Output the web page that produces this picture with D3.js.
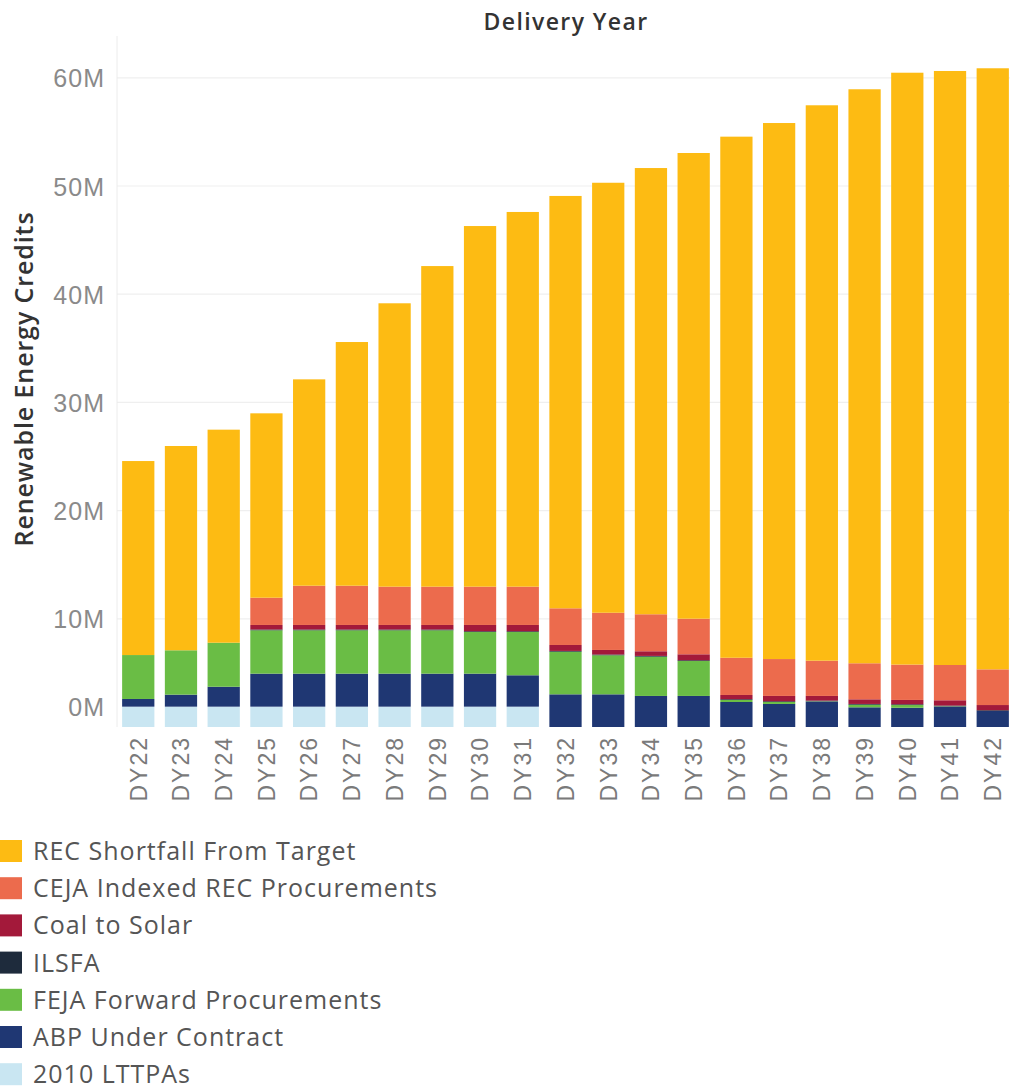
<!DOCTYPE html>
<html>
<head>
<meta charset="utf-8">
<script src="https://cdn.jsdelivr.net/npm/d3@7"></script>
<style>
  body { margin: 0; background: #fff; }
  svg { display: block; font-family: "Open Sans", "Noto Sans", sans-serif; }
</style>
</head>
<body>
<svg id="chart" width="1010" height="1091"></svg>
<script>
// delivery years
const years = ["DY22","DY23","DY24","DY25","DY26","DY27","DY28","DY29","DY30","DY31",
               "DY32","DY33","DY34","DY35","DY36","DY37","DY38","DY39","DY40","DY41","DY42"];

// values in millions of RECs, bottom of stack first
const lttpa    = [1.88,1.88,1.88,1.88,1.88,1.88,1.88,1.88,1.88,1.88, 0,0,0,0,0,0,0,0,0,0,0];
const abp      = [0.71,1.11,1.84,3.05,3.05,3.05,3.05,3.05,3.05,2.90, 3.02,3.02,2.87,2.87,2.31,2.13,2.34,1.82,1.78,1.88,1.48];
const feja     = [4.06,4.10,4.07,4.01,4.01,4.01,4.01,4.01,3.85,4.00, 3.94,3.61,3.63,3.23,0.19,0.18,0.03,0.24,0.25,0.03,0];
const ilsfa    = [0,0,0,0.07,0.07,0.07,0.07,0.07,0.07,0.07, 0.07,0.07,0.07,0.07,0.07,0.07,0.07,0.07,0.07,0.07,0.07];
const coal     = [0,0,0,0.42,0.42,0.42,0.42,0.42,0.58,0.58, 0.55,0.42,0.43,0.55,0.39,0.49,0.43,0.43,0.40,0.49,0.48];
const ceja     = [0,0,0,2.52,3.63,3.63,3.54,3.54,3.54,3.54, 3.39,3.44,3.42,3.29,3.44,3.41,3.26,3.33,3.27,3.26,3.30];
const shortfall= [17.93,18.88,19.69,17.04,19.07,22.52,26.19,29.63,33.33,34.63,
                  38.11,39.74,41.24,43.04,48.16,49.54,51.33,53.05,54.70,54.90,55.55];

const seriesNames = ["2010 LTTPAs","ABP Under Contract","FEJA Forward Procurements","ILSFA",
                     "Coal to Solar","CEJA Indexed REC Procurements","REC Shortfall From Target"];
const seriesValues = [lttpa, abp, feja, ilsfa, coal, ceja, shortfall];
const colors = ["#c9e6f2","#1f3773","#6abd45","#1e2b3c","#a3193a","#ec6b4d","#fdbb13"];

const yTicks = [0, 10, 20, 30, 40, 50, 60];

// build table for d3.stack
const rows = years.map((yr, i) => {
  const r = { year: yr };
  seriesNames.forEach((s, k) => r[s] = seriesValues[k][i]);
  return r;
});

const svg = d3.select("#chart");
const plotLeft = 117, plotRight = 1014, plotTop = 40, plotBottom = 727;

const x = d3.scaleBand()
  .domain(years)
  .range([plotLeft, plotRight])
  .paddingInner(0.245)
  .paddingOuter(0.12);

const y = d3.scaleLinear()
  .domain([0, 60])
  .range([plotBottom, plotBottom - 60 * 10.82]);

// gridlines
svg.append("g")
  .selectAll("line")
  .data(yTicks.filter(t => t > 0))
  .enter()
  .append("line")
  .attr("x1", plotLeft).attr("x2", 1010)
  .attr("y1", d => y(d)).attr("y2", d => y(d))
  .attr("stroke", "#efefef")
  .attr("stroke-width", 1.2);

// left pane border
svg.append("line")
  .attr("x1", plotLeft).attr("x2", plotLeft)
  .attr("y1", plotTop - 4).attr("y2", plotBottom)
  .attr("stroke", "#ececec");

// stacked bars
const stacked = d3.stack().keys(seriesNames)(rows);

svg.append("g")
  .selectAll("g")
  .data(stacked)
  .enter()
  .append("g")
  .attr("fill", (d, i) => colors[i])
  .selectAll("rect")
  .data(d => d)
  .enter()
  .append("rect")
  .attr("x", d => x(d.data.year))
  .attr("width", x.bandwidth())
  .attr("y", d => y(d[1]))
  .attr("height", d => Math.max(0, y(d[0]) - y(d[1])));

// y axis
const yAxis = svg.append("g")
  .attr("transform", `translate(${plotLeft},0)`)
  .call(d3.axisLeft(y).tickValues(yTicks).tickSize(0).tickPadding(12).tickFormat(d => d + "M"));
yAxis.select(".domain").remove();
yAxis.selectAll("text")
  .attr("fill", "#8a8a8a")
  .style("font-size", "25px")
  .style("letter-spacing", "1px")
  .attr("dy", d => d === 0 ? "-0.45em" : "0.36em");

// x axis
const xAxis = svg.append("g")
  .attr("transform", `translate(0,${plotBottom})`)
  .call(d3.axisBottom(x).tickSize(0).tickPadding(0));
xAxis.select(".domain").remove();
xAxis.selectAll("text")
  .attr("fill", "#7a7a7a")
  .style("font-size", "23px")
  .style("letter-spacing", "2px")
  .attr("text-anchor", "end")
  .attr("transform", "rotate(-90)")
  .attr("x", -9)
  .attr("y", 0)
  .attr("dy", "0.36em");

// titles
svg.append("text")
  .attr("x", 566).attr("y", 30)
  .attr("text-anchor", "middle")
  .attr("fill", "#333")
  .style("font-size", "23px")
  .style("font-weight", "600")
  .style("letter-spacing", "1.4px")
  .text("Delivery Year");

svg.append("text")
  .attr("transform", "translate(33,379) rotate(-90)")
  .attr("text-anchor", "middle")
  .attr("fill", "#333")
  .style("font-size", "25px")
  .style("font-weight", "600")
  .style("letter-spacing", "0.9px")
  .text("Renewable Energy Credits");

// legend, top to bottom reverses the stack
const legend = svg.append("g")
  .selectAll("g")
  .data(seriesNames.slice().reverse())
  .enter()
  .append("g")
  .attr("transform", (d, i) => `translate(0,${851 + i * 37.2})`);

legend.append("rect")
  .attr("x", 0).attr("y", -11)
  .attr("width", 22).attr("height", 22)
  .attr("fill", d => colors[seriesNames.indexOf(d)]);

legend.append("text")
  .attr("x", 33).attr("y", 0)
  .attr("dy", "0.36em")
  .attr("fill", "#555")
  .style("font-size", "25px")
  .style("letter-spacing", "1px")
  .text(d => d);
</script>
</body>
</html>
